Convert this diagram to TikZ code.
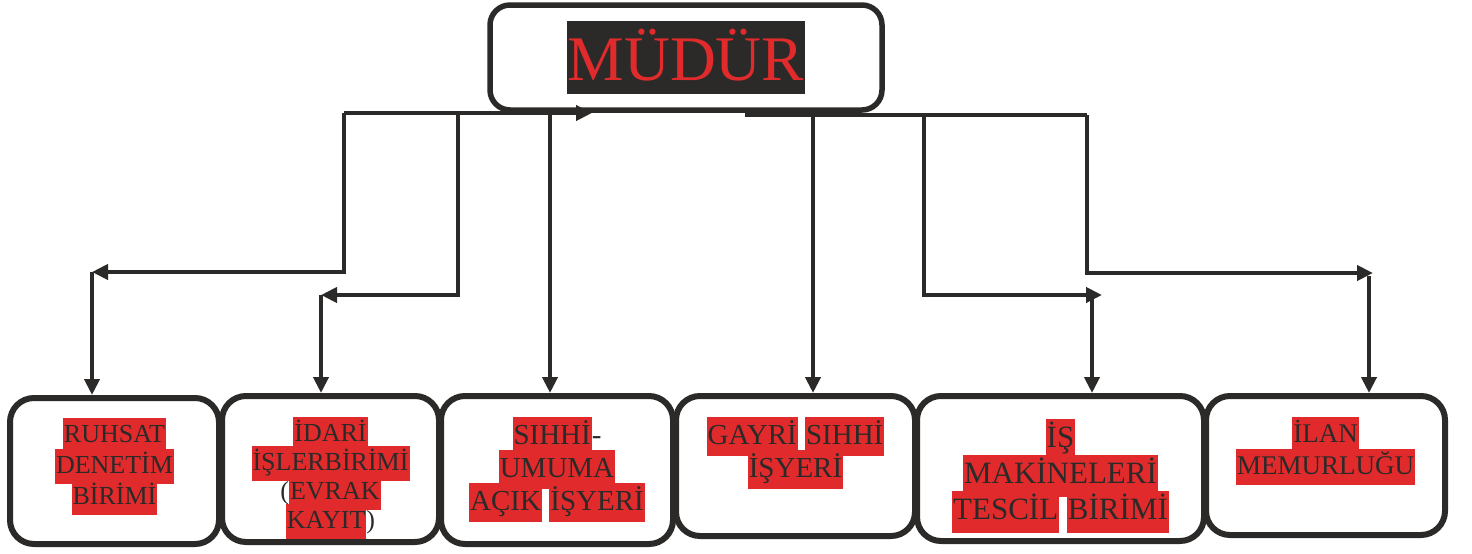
\documentclass[tikz,border=0pt]{standalone}
\usepackage{fontspec}
\setmainfont{Liberation Serif}
\usepackage{tikz}
\usetikzlibrary{positioning,arrows.meta}

\definecolor{inkdark}{HTML}{2B2A29}
\definecolor{hlred}{HTML}{E12A2B}

% red line marker, as in the scanned chart
\newcommand{\redmark}[1]{{\setlength{\fboxsep}{1pt}\colorbox{hlred}{\rule[-0.38em]{0pt}{1.27em}#1}}}

\begin{document}
\begin{tikzpicture}[x=1pt, y=-1pt, >={Triangle[length=16pt,width=15pt]}]
  \tikzstyle{unit} = [rectangle, draw=inkdark, line width=6pt, rounded corners=24pt, fill=white]
  \tikzstyle{unittext} = [align=center, inner sep=0pt, text=inkdark]
  \tikzstyle{link} = [draw=inkdark, line width=4.3pt]

  \useasboundingbox (0,0) rectangle (1472,554);

  % head
  \node[unit, line width=5.5pt, rounded corners=20pt, minimum width=392pt, minimum height=105pt] (mudur) at (686,57.5)
    {{\fontsize{63.5}{70}\selectfont\setlength{\fboxsep}{1pt}\colorbox{inkdark}{\rule[-13pt]{0pt}{71pt}\textcolor{hlred}{MÜDÜR}}}};

  % units
  \node[unit, minimum width=209pt, minimum height=146pt] (ruhsat) at (114.5,471) {};
  \node[unit, minimum width=217pt, minimum height=146pt] (idari) at (330.5,469) {};
  \node[unit, minimum width=232pt, minimum height=148pt] (sihhi) at (557,470) {};
  \node[unit, minimum width=239pt, minimum height=140pt] (gayri) at (795.5,466) {};
  \node[unit, minimum width=287pt, minimum height=145pt] (ismak) at (1060.5,468.5) {};
  \node[unit, minimum width=239pt, minimum height=139pt] (ilan) at (1325.5,465.5) {};

  \node[unittext, font={\fontsize{26}{31}\selectfont\lineskiplimit=-40pt\relax}, below=23pt of ruhsat.north] (ruhsat_t)
    {\redmark{RUHSAT}\\\redmark{DENETİM}\\\redmark{BİRİMİ}};
  \node[unittext, font={\fontsize{26}{29}\selectfont\lineskiplimit=-40pt\relax}, below=24pt of idari.north] (idari_t)
    {\redmark{İDARİ}\\\redmark{İŞLERBİRİMİ}\\(\redmark{EVRAK}\\\redmark{KAYIT})};
  \node[unittext, font={\fontsize{29}{33}\selectfont\lineskiplimit=-40pt\relax}, below=24pt of sihhi.north] (sihhi_t)
    {\redmark{SIHHİ}-\\\redmark{UMUMA}\\\redmark{AÇIK} \redmark{İŞYERİ}};
  \node[unittext, font={\fontsize{29}{33}\selectfont\lineskiplimit=-40pt\relax}, below=24pt of gayri.north] (gayri_t)
    {\redmark{GAYRİ} \redmark{SIHHİ}\\\redmark{İŞYERİ}};
  \node[unittext, font={\fontsize{31}{36}\selectfont\lineskiplimit=-40pt\relax}, below=26pt of ismak.north] (ismak_t)
    {\redmark{İŞ}\\\redmark{MAKİNELERİ}\\\redmark{TESCİL} \redmark{BİRİMİ}};
  \node[unittext, font={\fontsize{27}{32}\selectfont\lineskiplimit=-40pt\relax}, below=24pt of ilan.north] (ilan_t)
    {\redmark{İLAN}\\\redmark{MEMURLUĞU}};

  % bus under the head
  \coordinate (b1) at (344,113);
  \coordinate (b2) at (458,113);
  \coordinate (b3) at (550,113);
  \coordinate (bm) at (592,113);
  \coordinate (br) at (745,115);
  \coordinate (b4) at (813,115);
  \coordinate (b5) at (924,115);
  \coordinate (b6) at (1087,115);

  % bends
  \coordinate (k1) at (92,272);
  \coordinate (k2) at (321,295);
  \coordinate (k5) at (1102,295);
  \coordinate (k5d) at (1092,297);
  \coordinate (k6) at (1373,273);
  \coordinate (k6d) at (1369,276);

  \draw[link, ->] (b1) -- (bm);
  \draw[link] (br) -- (b6);

  \draw[link, ->] (b1) |- (k1);
  \draw[link, ->] (k1) -- (k1 |- ruhsat.north);
  \draw[link, ->] (b2) |- (k2);
  \draw[link, ->] (k2) -- (k2 |- idari.north);
  \draw[link, ->] (b3) -- (b3 |- sihhi.north);
  \draw[link, ->] (b4) -- (b4 |- gayri.north);
  \draw[link, ->] (b5) |- (k5);
  \draw[link, ->] (k5d) -- (k5d |- ismak.north);
  \draw[link, ->] (b6) |- (k6);
  \draw[link, ->] (k6d) -- (k6d |- ilan.north);
\end{tikzpicture}
\end{document}
